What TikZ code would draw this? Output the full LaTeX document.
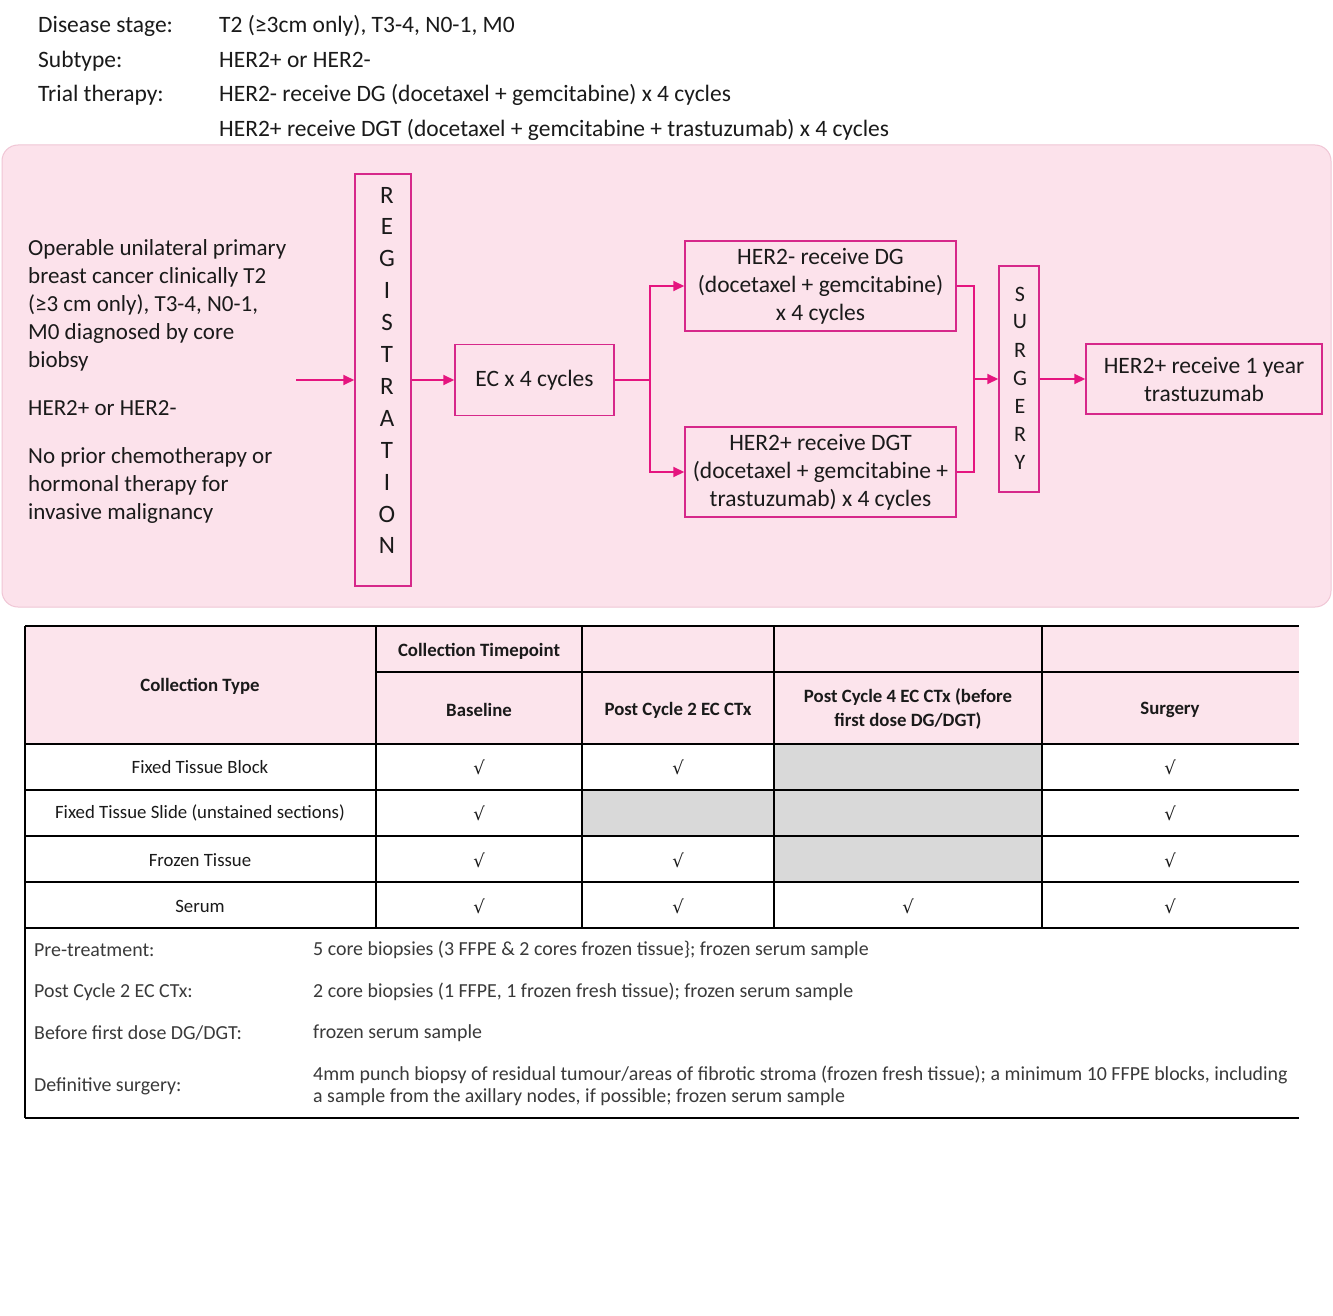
\documentclass[tikz,border=0pt]{standalone}
\usepackage{fontspec}
\setmainfont{Carlito}
\newfontfamily\djv{DejaVu Sans}
\usetikzlibrary{arrows.meta}
\definecolor{mag}{HTML}{D6288A}
\definecolor{arrc}{HTML}{E5157F}
\definecolor{panelfill}{HTML}{FCE2EB}
\definecolor{paneldraw}{HTML}{F0C6D5}
\definecolor{headfill}{HTML}{FCE4EC}
\definecolor{cellgray}{HTML}{D9D9D9}
\definecolor{txt}{HTML}{1A1A1A}
\definecolor{notetxt}{HTML}{3A3A3A}
\newcommand\topfont{\fontsize{23.5}{28}\selectfont}
\newcommand\flowfont{\fontsize{23.5}{28}\selectfont}
\newcommand\critfont{\fontsize{23}{28}\selectfont}
\newcommand\vfont{\fontsize{25}{28}\selectfont}
\newcommand\thfont{\fontsize{18.8}{24}\selectfont\bfseries}
\newcommand\tdfont{\fontsize{18.8}{24}\selectfont}
\newcommand\notefont{\fontsize{19.9}{22}\selectfont}
\tikzset{
  toptext/.style={anchor=base west, inner sep=0pt, font=\topfont, text=txt},
  box/.style={draw=mag, line width=1.5pt, inner sep=0pt, align=center, font=\flowfont, text=txt},
  vletter/.style={inner sep=0pt, font=\vfont, text=txt},
  arr/.style={draw=arrc, line width=2pt, -{Triangle[length=11pt,width=10pt]}},
  ln/.style={draw=arrc, line width=2pt},
  th/.style={inner sep=0pt, align=center, font=\thfont, text=txt},
  td/.style={inner sep=0pt, align=center, font=\tdfont, text=txt},
  ck/.style={inner sep=0pt, font=\djv\fontsize{18}{20}\selectfont, text=txt},
  tl/.style={line width=1.4pt, draw=black},
  note/.style={anchor=west, inner sep=0pt, align=left, font=\notefont, text=notetxt},
}
\begin{document}
\begin{tikzpicture}[x=1pt,y=-1pt]
\useasboundingbox[fill=white] (0,0) rectangle (1333,1316);

% ---------- top text ----------
\node[toptext] (l1) at (38,33) {Disease stage:};
\node[toptext] (v1) at (219,33) {T2 (≥3cm only), T3-4, N0-1, M0};
\node[toptext] (l2) at (38,68) {Subtype:};
\node[toptext] (v2) at (219,68) {HER2+ or HER2-};
\node[toptext] (l3) at (38,102) {Trial therapy:};
\node[toptext] (v3) at (219,102) {HER2- receive DG (docetaxel + gemcitabine) x 4 cycles};
\node[toptext] (v4) at (219,137) {HER2+ receive DGT (docetaxel + gemcitabine + trastuzumab) x 4 cycles};

% ---------- panel ----------
\draw[fill=panelfill, draw=paneldraw, line width=1pt, rounded corners=16pt] (2,145) rectangle (1331,607);

% left criteria text
\node[anchor=north west, inner sep=0pt, align=left, font=\critfont, text=txt] (crit) at (28,239)
 {Operable unilateral primary\\
  breast cancer clinically T2\\
  (≥3 cm only), T3-4, N0-1,\\
  M0 diagnosed by core\\
  biobsy\\[20pt]
  HER2+ or HER2-\\[20pt]
  No prior chemotherapy or\\
  hormonal therapy for\\
  invasive malignancy};

% boxes
\node[box, minimum width=56pt, minimum height=412pt] (reg) at (383,380) {};
\foreach \l [count=\i] in {R,E,G,I,S,T,R,A,T,I,O,N}
  \node[vletter] (rl\i) at (387,{195+(\i-1)*31.9}) {\l};
\node[box, minimum width=159pt, minimum height=71pt] (ec) at (534.5,380) {EC x 4 cycles};
\node[box, minimum width=271pt, minimum height=90pt] (dg) at (820.5,286)
  {HER2- receive DG\\(docetaxel + gemcitabine)\\x 4 cycles};
\node[box, minimum width=271pt, minimum height=90pt] (dgt) at (820.5,472)
  {HER2+ receive DGT\\(docetaxel + gemcitabine +\\trastuzumab) x 4 cycles};
\node[box, minimum width=40pt, minimum height=226pt] (surg) at (1019,379) {};
\foreach \l [count=\i] in {S,U,R,G,E,R,Y}
  \node[vletter, font=\fontsize{22}{24}\selectfont] (sl\i) at (1020,{294+(\i-1)*28}) {\l};
\node[box, minimum width=236pt, minimum height=70pt] (fin) at (1204,379)
  {HER2+ receive 1 year\\trastuzumab};

% connectors
\coordinate (start) at (296,380);
\draw[arr] (start) -- (reg.west);
\draw[arr] (reg.east) -- (ec.west);
\coordinate (split) at (650,380);
\draw[ln] (ec.east) -- (split);
\draw[arr] (split) |- (dg.west);
\draw[arr] (split) |- (dgt.west);
\coordinate (join) at (974,379);
\draw[ln] (dg.east) -| (join);
\draw[ln] (dgt.east) -| (join);
\draw[arr] (join) -- (surg.west);
\draw[arr] (surg.east) -- (fin.west);

% ---------- table ----------
\fill[headfill] (25,626) rectangle (1299,744);
\fill[cellgray] (774,744) rectangle (1042,882);
\fill[cellgray] (582,790) rectangle (774,836);

\draw[tl] (25,626) -- (1299,626);
\draw[tl] (376,672) -- (1299,672);
\foreach \yy in {744,790,836,882,928}
  \draw[tl] (25,\yy) -- (1299,\yy);
\draw[tl] (25,626) -- (25,1118);
\foreach \xx in {376,582,774,1042}
  \draw[tl] (\xx,626) -- (\xx,928);
\draw[tl] (25,1118) -- (1299,1118);

\node[th] (hct) at (200,686) {Collection Type};
\node[th] (hctp) at (479,651) {Collection Timepoint};
\node[th] (hb) at (479,710) {Baseline};
\node[th] (hp2) at (678,710) {Post Cycle 2 EC CTx};
\node[th] (hp4) at (908,709) {Post Cycle 4 EC CTx (before\\first dose DG/DGT)};
\node[th] (hs) at (1170,710) {Surgery};

\node[td] (r1) at (200,767) {Fixed Tissue Block};
\node[td] (r2) at (200,813) {Fixed Tissue Slide (unstained sections)};
\node[td] (r3) at (200,860) {Frozen Tissue};
\node[td] (r4) at (200,906) {Serum};

\node[ck] (c11) at (479,767) {√};
\node[ck] (c12) at (678,767) {√};
\node[ck] (c14) at (1170,767) {√};
\node[ck] (c21) at (479,813) {√};
\node[ck] (c24) at (1170,813) {√};
\node[ck] (c31) at (479,860) {√};
\node[ck] (c32) at (678,860) {√};
\node[ck] (c34) at (1170,860) {√};
\node[ck] (c41) at (479,906) {√};
\node[ck] (c42) at (678,906) {√};
\node[ck] (c43) at (908,906) {√};
\node[ck] (c44) at (1170,906) {√};

% notes
\node[note] (n1l) at (34,950) {Pre-treatment:};
\node[note] (n1) at (313,950) {5 core biopsies (3 FFPE \& 2 cores frozen tissue\}; frozen serum sample};
\node[note] (n2l) at (34,992) {Post Cycle 2 EC CTx:};
\node[note] (n2) at (313,992) {2 core biopsies (1 FFPE, 1 frozen fresh tissue); frozen serum sample};
\node[note] (n3l) at (34,1033) {Before first dose DG/DGT:};
\node[note] (n3) at (313,1033) {frozen serum sample};
\node[note] (n4l) at (34,1086) {Definitive surgery:};
\node[note] (n4) at (313,1086) {4mm punch biopsy of residual tumour/areas of fibrotic stroma (frozen fresh tissue); a minimum 10 FFPE blocks, including\\a sample from the axillary nodes, if possible; frozen serum sample};
\end{tikzpicture}
\end{document}
